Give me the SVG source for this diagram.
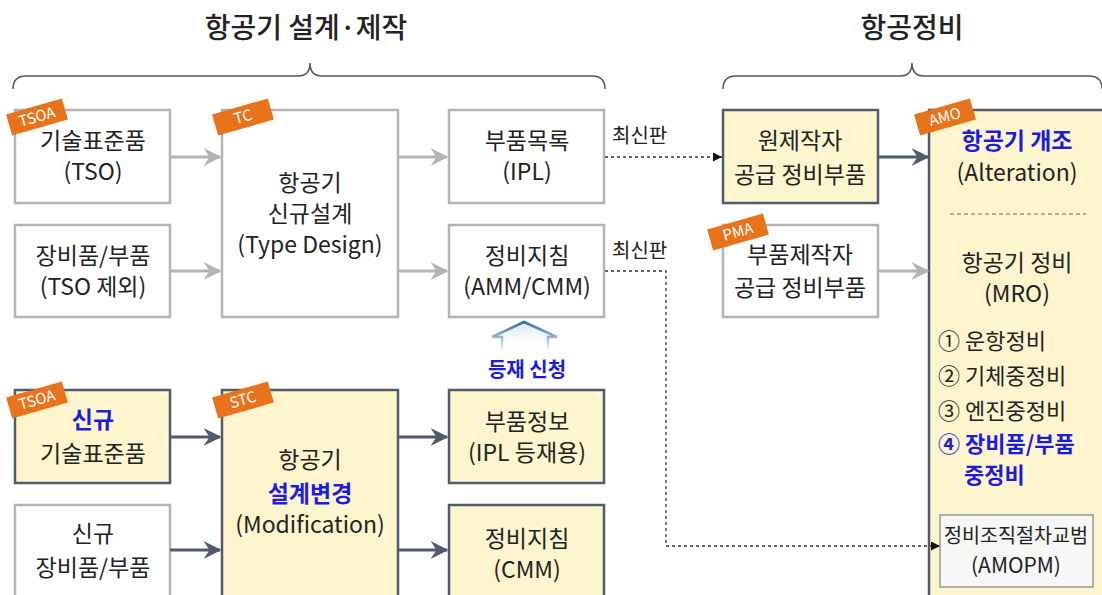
<svg xmlns="http://www.w3.org/2000/svg" width="1102" height="595" viewBox="0 0 1102 595">
<style>
text{font-family:"Noto Sans CJK KR","Noto Sans",sans-serif;fill:#222;}
.t{font-size:23px;text-anchor:middle;}
.title{font-size:28px;text-anchor:middle;font-weight:500;fill:#222;}
.blue{fill:#1c1ce0;font-weight:700;}
.gbox{fill:#fff;stroke:#b3b3b3;stroke-width:2.5;}
.ybox{fill:#fdf5cd;stroke:#4f5b6e;stroke-width:2.5;}
.garr{stroke:#b3b3b3;stroke-width:3;fill:none;marker-end:url(#ag);}
.darr{stroke:#4f5b6e;stroke-width:3;fill:none;marker-end:url(#ad);}
.dash{stroke:#333;stroke-width:1.3;stroke-dasharray:3 3;fill:none;}
.tag{fill:#e8731a;}
.tagt{font-size:15px;fill:#fff;text-anchor:middle;}
.brace{stroke:#555;stroke-width:1.5;fill:none;}
.list{font-size:22px;}
</style>
<defs>
<marker id="ag" viewBox="0 0 12 12" refX="11" refY="6" markerWidth="6" markerHeight="6" markerUnits="strokeWidth" orient="auto"><path d="M0,0 L12,6 L0,12 L4,6 z" fill="#b3b3b3"/></marker>
<marker id="ad" viewBox="0 0 12 12" refX="11" refY="6" markerWidth="6" markerHeight="6" markerUnits="strokeWidth" orient="auto"><path d="M0,0 L12,6 L0,12 L4,6 z" fill="#4f5b6e"/></marker>
<marker id="ab" viewBox="0 0 10 10" refX="10" refY="5" markerWidth="9" markerHeight="9" markerUnits="userSpaceOnUse" orient="auto"><path d="M0,0 L10,5 L0,10 z" fill="#111"/></marker>
<linearGradient id="up" x1="0" y1="0" x2="0" y2="1"><stop offset="0" stop-color="#2f6fa8"/><stop offset="1" stop-color="#2f6fa8" stop-opacity="0"/></linearGradient>
<linearGradient id="upf" x1="0" y1="0" x2="0" y2="1"><stop offset="0" stop-color="#d6e6f4"/><stop offset="1" stop-color="#ffffff" stop-opacity="0"/></linearGradient>
</defs>

<g id="titles">
<text class="title" x="306" y="38">항공기 설계·제작</text>
<text class="title" x="912" y="38">항공정비</text>
<path class="brace" d="M13,89 Q13,76 26,76 L298,76 Q310,76 310,63 Q310,76 322,76 L592,76 Q605,76 605,89"/>
<path class="brace" d="M723,89 Q723,76 736,76 L900,76 Q912,76 912,63 Q912,76 924,76 L1089,76 Q1102,76 1102,89"/>
</g>

<g id="n-tso">
<rect class="gbox" x="15" y="110" width="155" height="93"/>
<text class="t" x="93" y="149">기술표준품</text>
<text class="t" x="93" y="180">(TSO)</text>
</g>
<g id="n-equip">
<rect class="gbox" x="15" y="225" width="155" height="92"/>
<text class="t" x="93" y="264">장비품/부품</text>
<text class="t" x="93" y="295">(TSO 제외)</text>
</g>
<g id="n-type">
<rect class="gbox" x="222" y="110" width="176" height="207"/>
<text class="t" x="310" y="191">항공기</text>
<text class="t" x="310" y="222">신규설계</text>
<text class="t" x="310" y="253">(Type Design)</text>
</g>
<g id="n-ipl">
<rect class="gbox" x="449" y="110" width="155" height="93"/>
<text class="t" x="527" y="149">부품목록</text>
<text class="t" x="527" y="180">(IPL)</text>
</g>
<g id="n-amm">
<rect class="gbox" x="449" y="225" width="155" height="92"/>
<text class="t" x="527" y="264">정비지침</text>
<text class="t" x="527" y="295">(AMM/CMM)</text>
</g>
<g id="n-oem">
<rect class="ybox" x="723" y="110" width="155" height="93"/>
<text class="t" x="800" y="149">원제작자</text>
<text class="t" x="800" y="183">공급 정비부품</text>
</g>
<g id="n-pma">
<rect class="gbox" x="723" y="225" width="155" height="92"/>
<text class="t" x="800" y="263">부품제작자</text>
<text class="t" x="800" y="296">공급 정비부품</text>
</g>
<g id="n-amo">
<rect class="ybox" x="929" y="110" width="185" height="500"/>
<text class="t blue" x="1017" y="149">항공기 개조</text>
<text class="t" x="1017" y="181">(Alteration)</text>
<line x1="950" y1="214" x2="1086" y2="214" stroke="#666" stroke-width="1" stroke-dasharray="4 3"/>
<text class="t" x="1017" y="271">항공기 정비</text>
<text class="t" x="1017" y="302">(MRO)</text>
<text class="list" x="938" y="349">① 운항정비</text>
<text class="list" x="938" y="384">② 기체중정비</text>
<text class="list" x="938" y="419">③ 엔진중정비</text>
<text class="list blue" x="938" y="452">④ 장비품/부품</text>
<text class="list blue" x="964" y="483">중정비</text>
</g>
<g id="n-amopm">
<rect x="940" y="515" width="153" height="72" fill="#f7f7f5" stroke="#999" stroke-width="1.5"/>
<text class="t" x="1016" y="543" style="font-size:20px" textLength="144" lengthAdjust="spacingAndGlyphs">정비조직절차교범</text>
<text class="t" x="1016" y="573" style="font-size:21px">(AMOPM)</text>
</g>

<g id="n-newtso">
<rect class="ybox" x="15" y="390" width="155" height="93"/>
<text class="t blue" x="93" y="428">신규</text>
<text class="t" x="93" y="462">기술표준품</text>
</g>
<g id="n-newequip">
<rect class="gbox" x="15" y="505" width="155" height="100"/>
<text class="t" x="93" y="542">신규</text>
<text class="t" x="93" y="576">장비품/부품</text>
</g>
<g id="n-stc">
<rect class="ybox" x="222" y="390" width="176" height="215"/>
<text class="t" x="310" y="468">항공기</text>
<text class="t blue" x="310" y="502">설계변경</text>
<text class="t" x="310" y="533">(Modification)</text>
</g>
<g id="n-partinfo">
<rect class="ybox" x="449" y="390" width="155" height="93"/>
<text class="t" x="527" y="430">부품정보</text>
<text class="t" x="527" y="461">(IPL 등재용)</text>
</g>
<g id="n-cmm">
<rect class="ybox" x="449" y="505" width="155" height="100"/>
<text class="t" x="527" y="547">정비지침</text>
<text class="t" x="527" y="578">(CMM)</text>
</g>

<g id="connectors">
<line class="garr" x1="170" y1="157" x2="220" y2="157"/>
<line class="garr" x1="170" y1="271" x2="220" y2="271"/>
<line class="garr" x1="398" y1="157" x2="447" y2="157"/>
<line class="garr" x1="398" y1="271" x2="447" y2="271"/>
<line class="dash" x1="605" y1="157" x2="722" y2="157" marker-end="url(#ab)"/>
<path class="dash" d="M605,271 L666,271 L666,546 L928,546"/>
<path class="dash" d="M930,546 L940,546" marker-end="url(#ab)"/>
<line class="darr" x1="878" y1="157" x2="928" y2="157"/>
<line class="garr" x1="878" y1="271" x2="928" y2="271"/>
<line class="darr" x1="170" y1="437" x2="220" y2="437"/>
<line class="darr" x1="170" y1="550" x2="220" y2="550"/>
<line class="darr" x1="398" y1="437" x2="447" y2="437"/>
<line class="darr" x1="398" y1="550" x2="447" y2="550"/>
<text x="612" y="143" style="font-size:20px">최신판</text>
<text x="612" y="258" style="font-size:20px">최신판</text>
<path d="M502,352 L502,337 L492,337 L524,322 L557,337 L548,337 L548,352" fill="url(#upf)" stroke="url(#up)" stroke-width="2.5"/>
<text x="527" y="377" class="t blue" style="font-size:20px">등재 신청</text>
</g>

<g id="tags">
<g transform="translate(37,117) rotate(-16)"><rect class="tag" x="-29" y="-11" width="58" height="22"/><text class="tagt" x="0" y="5">TSOA</text></g>
<g transform="translate(243,117) rotate(-16)"><rect class="tag" x="-29" y="-11" width="58" height="22"/><text class="tagt" x="0" y="5">TC</text></g>
<g transform="translate(738,232) rotate(-16)"><rect class="tag" x="-29" y="-11" width="58" height="22"/><text class="tagt" x="0" y="5">PMA</text></g>
<g transform="translate(945,117) rotate(-16)"><rect class="tag" x="-29" y="-11" width="58" height="22"/><text class="tagt" x="0" y="5">AMO</text></g>
<g transform="translate(37,400) rotate(-16)"><rect class="tag" x="-29" y="-11" width="58" height="22"/><text class="tagt" x="0" y="5">TSOA</text></g>
<g transform="translate(243,400) rotate(-16)"><rect class="tag" x="-29" y="-11" width="58" height="22"/><text class="tagt" x="0" y="5">STC</text></g>
</g>
</svg>
